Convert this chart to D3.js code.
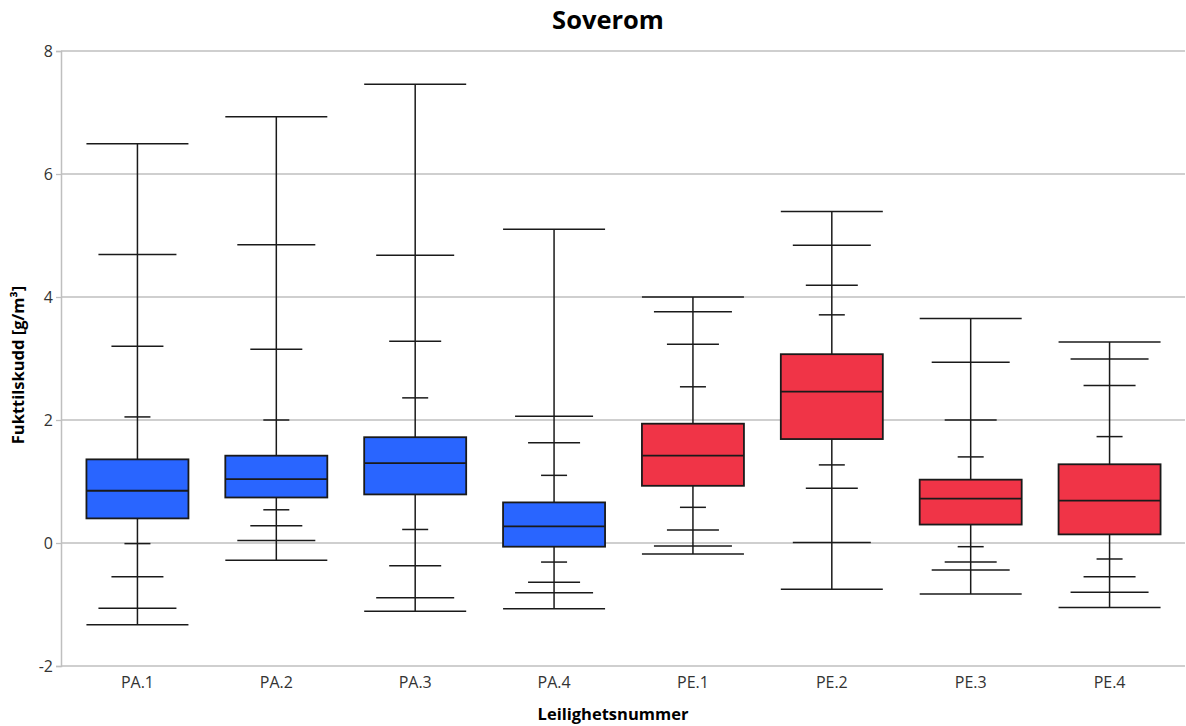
<!DOCTYPE html>
<html>
<head>
<meta charset="utf-8">
<script src="https://cdn.jsdelivr.net/npm/d3@7"></script>
<style>
  body { margin: 0; background: #fff; }
  text { font-family: "Open Sans", "Noto Sans", sans-serif; }
</style>
</head>
<body>
<svg width="1186" height="726"></svg>
<script>
var width = 1186,
    height = 726;

// one entry per apartment
var categories = ["PA.1", "PA.2", "PA.3", "PA.4", "PE.1", "PE.2", "PE.3", "PE.4"];
var groups = ["PA", "PA", "PA", "PA", "PE", "PE", "PE", "PE"];

// whisker ticks, from the bottom up
var mins   = [-1.33, -0.28, -1.11, -1.07, -0.18, -0.75, -0.83, -1.05];
var lowA   = [-1.06,  0.04, -0.89, -0.81, -0.05,  0.01, -0.44, -0.80];
var lowB   = [-0.55,  0.28, -0.37, -0.64,  0.21,  0.89, -0.31, -0.55];
var lowC   = [-0.01,  0.54,  0.22, -0.31,  0.58,  1.27, -0.06, -0.26];
// box
var q1     = [ 0.40,  0.74,  0.79, -0.06,  0.93,  1.69,  0.30,  0.14];
var median = [ 0.85,  1.04,  1.30,  0.27,  1.42,  2.46,  0.72,  0.69];
var q3     = [ 1.36,  1.42,  1.72,  0.66,  1.94,  3.07,  1.03,  1.28];
// whisker ticks above the box
var highC  = [ 2.05,  2.00,  2.36,  1.10,  2.54,  3.71,  1.40,  1.73];
var highB  = [ 3.20,  3.15,  3.28,  1.63,  3.23,  4.19,  2.00,  2.56];
var highA  = [ 4.69,  4.85,  4.68,  2.06,  3.76,  4.84,  2.94,  2.99];
var maxs   = [ 6.49,  6.93,  7.46,  5.10,  4.00,  5.39,  3.65,  3.27];

var yTicks = [-2, 0, 2, 4, 6, 8];

var colors = { PA: "#2965ff", PE: "#f03447" };

var margin = { top: 51, right: 1, bottom: 60, left: 61 };

var svg = d3.select("svg");

var x = d3.scaleBand()
    .domain(categories)
    .range([margin.left + 7, width - margin.right - 6]);

var y = d3.scaleLinear()
    .domain([-2, 8])
    .range([height - margin.bottom, margin.top]);

// gridlines
svg.append("g")
    .selectAll("line")
    .data(yTicks)
    .join("line")
    .attr("x1", margin.left)
    .attr("x2", width - margin.right)
    .attr("y1", function (d) { return y(d); })
    .attr("y2", function (d) { return y(d); })
    .attr("stroke", "#bfbfbf")
    .attr("stroke-width", 1.3);

// y axis
var yAxis = svg.append("g")
    .attr("transform", "translate(" + margin.left + ",0)")
    .call(d3.axisLeft(y).tickValues(yTicks).tickSize(5).tickPadding(3)
        .tickFormat(function (d) { return String(d); }));
yAxis.select(".domain").attr("stroke", "#bfbfbf").attr("stroke-width", 1.5);
yAxis.selectAll(".tick line").attr("stroke", "#bfbfbf").attr("stroke-width", 1.3);
yAxis.selectAll(".tick text")
    .attr("fill", "#333")
    .style("font-size", "16px")
    .style("font-family", "'Open Sans', sans-serif");

// x axis
var xAxis = svg.append("g")
    .attr("transform", "translate(0," + (height - margin.bottom) + ")")
    .call(d3.axisBottom(x).tickSize(0).tickPadding(11));
xAxis.select(".domain").remove();
xAxis.selectAll(".tick text")
    .attr("fill", "#333")
    .style("font-size", "16px")
    .style("font-family", "'Open Sans', sans-serif");

// box plots
var boxW = 102;
var rows = categories.map(function (c, i) {
    return {
        name: c, group: groups[i],
        ticks: [
            { v: mins[i], w: 102 }, { v: lowA[i], w: 78 }, { v: lowB[i], w: 52 }, { v: lowC[i], w: 26 },
            { v: highC[i], w: 26 }, { v: highB[i], w: 52 }, { v: highA[i], w: 78 }, { v: maxs[i], w: 102 }
        ],
        min: mins[i], max: maxs[i], q1: q1[i], med: median[i], q3: q3[i]
    };
});

var box = svg.append("g")
    .selectAll("g")
    .data(rows)
    .join("g")
    .attr("transform", function (d) { return "translate(" + (x(d.name) + x.bandwidth() / 2) + ",0)"; });

// stem
box.append("line")
    .attr("x1", 0).attr("x2", 0)
    .attr("y1", function (d) { return y(d.min); })
    .attr("y2", function (d) { return y(d.max); })
    .attr("stroke", "#1a1a1a")
    .attr("stroke-width", 1.5);

box.selectAll(".tick-mark")
    .data(function (d) { return d.ticks; })
    .join("line")
    .attr("class", "tick-mark")
    .attr("x1", function (t) { return -t.w / 2; })
    .attr("x2", function (t) { return t.w / 2; })
    .attr("y1", function (t) { return y(t.v); })
    .attr("y2", function (t) { return y(t.v); })
    .attr("stroke", "#1a1a1a")
    .attr("stroke-width", 1.5);

box.append("rect")
    .attr("x", -boxW / 2)
    .attr("width", boxW)
    .attr("y", function (d) { return y(d.q3); })
    .attr("height", function (d) { return y(d.q1) - y(d.q3); })
    .attr("fill", function (d) { return colors[d.group]; })
    .attr("stroke", "#1a1a1a")
    .attr("stroke-width", 1.8);

box.append("line")
    .attr("x1", -boxW / 2).attr("x2", boxW / 2)
    .attr("y1", function (d) { return y(d.med); })
    .attr("y2", function (d) { return y(d.med); })
    .attr("stroke", "#1a1a1a")
    .attr("stroke-width", 1.8);

// title and labels
svg.append("text")
    .attr("x", 608).attr("y", 29)
    .attr("text-anchor", "middle")
    .style("font-size", "25.5px")
    .style("font-weight", "bold")
    .text("Soverom");

svg.append("text")
    .attr("x", 613).attr("y", 720)
    .attr("text-anchor", "middle")
    .style("font-size", "16.5px")
    .style("font-weight", "bold")
    .text("Leilighetsnummer");

svg.append("text")
    .attr("transform", "translate(24," + 365 + ") rotate(-90)")
    .attr("text-anchor", "middle")
    .style("font-size", "16.5px")
    .style("font-weight", "bold")
    .text("Fukttilskudd [g/m³]");
</script>
</body>
</html>
